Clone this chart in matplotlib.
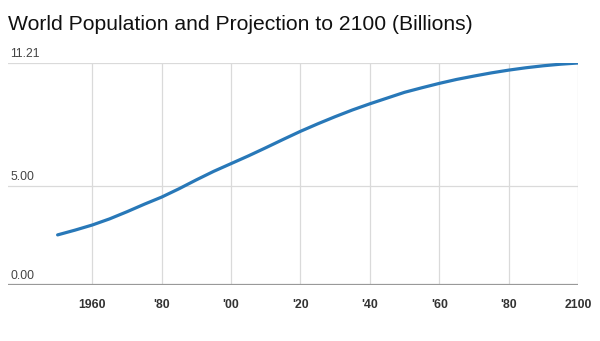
import numpy as np
import matplotlib
matplotlib.use("Agg")
import matplotlib.pyplot as plt

plt.rcParams['font.family'] = ['Liberation Sans', 'DejaVu Sans']

# world population, billions (estimates + projection)
years = [1950, 1955, 1960, 1965, 1970, 1975, 1980, 1985, 1990, 1995,
         2000, 2005, 2010, 2015, 2020, 2025, 2030, 2035, 2040, 2045,
         2050, 2055, 2060, 2065, 2070, 2075, 2080, 2085, 2090, 2095, 2100]
population = [2.53, 2.77, 3.03, 3.34, 3.70, 4.08, 4.44, 4.86, 5.31, 5.74,
              6.13, 6.52, 6.93, 7.35, 7.76, 8.14, 8.50, 8.84, 9.15, 9.44,
              9.73, 9.96, 10.18, 10.38, 10.55, 10.71, 10.85, 10.97, 11.07, 11.15, 11.21]

x_ticks = [1960, 1980, 2000, 2020, 2040, 2060, 2080, 2100]
x_labels = ['1960', "'80", "'00", "'20", "'40", "'60", "'80", '2100']
y_ticks = [0.0, 5.0, 11.21]

fig = plt.figure(figsize=(6, 3.41), dpi=100)
ax = fig.add_axes([8 / 600, 1 - 285 / 341, 570 / 600, (285 - 63) / 341])

ax.plot(years, population, color='#2878b8', lw=2.3, solid_capstyle='round', zorder=3)

ax.set_xlim(1935.7, 2100)
ax.set_ylim(0, 11.21)

# grid lines
for yv in y_ticks[1:]:
    ax.axhline(yv, color='#dadada', lw=0.9, zorder=1)
for xv in x_ticks:
    ax.axvline(xv, color='#dadada', lw=0.9, zorder=1)
ax.axhline(0, color='#999999', lw=1.6, zorder=2)

for s in ax.spines.values():
    s.set_visible(False)
ax.set_xticks([])
ax.set_yticks([])

# y labels sit above their gridlines
for yv in y_ticks:
    ax.annotate('%.2f' % yv, xy=(0, yv), xycoords=('axes fraction', 'data'),
                xytext=(1.5, 2), textcoords='offset points', ha='left', va='bottom',
                fontsize=8.7, color='#444444')

for xv, lab in zip(x_ticks, x_labels):
    ax.annotate(lab, xy=(xv, 0), xycoords=('data', 'axes fraction'),
                xytext=(0, -14.5), textcoords='offset points', ha='center', va='center',
                fontsize=8.8, fontweight='bold', color='#333333')

fig.text(8 / 600, 1 - 24 / 341, 'World Population and Projection to 2100 (Billions)',
         ha='left', va='center', fontsize=15.2, color='#111111')

fig.savefig('out.png', dpi=100)
